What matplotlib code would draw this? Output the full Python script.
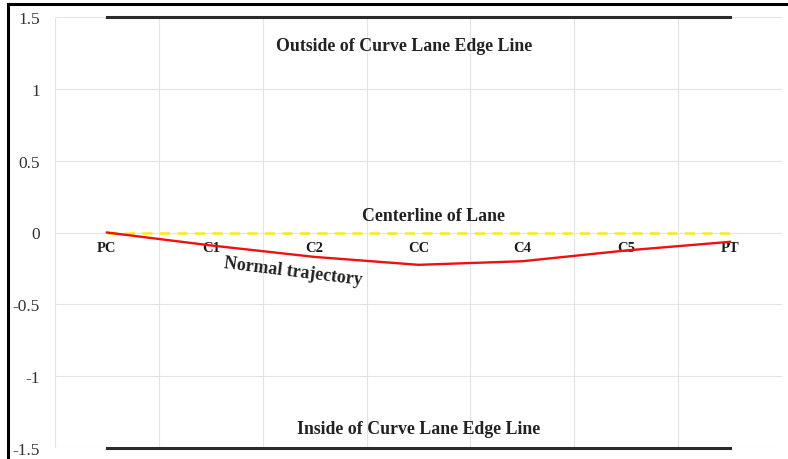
"""Lateral position of a normal trajectory through a curve."""
import matplotlib.pyplot as plt
from matplotlib.lines import Line2D

# chart data
points = ['PC', 'C1', 'C2', 'CC', 'C4', 'C5', 'PT']
trajectory = [0.0, -0.09, -0.17, -0.225, -0.20, -0.125, -0.065]
centerline = [0, 0, 0, 0, 0, 0, 0]
outside_edge = [1.5] * 7
inside_edge = [-1.5] * 7
y_ticks = [-1.5, -1, -0.5, 0, 0.5, 1, 1.5]
y_tick_labels = ['-1.5', '-1', '-0.5', '0', '0.5', '1', '1.5']

plt.rcParams['font.family'] = ['Liberation Serif', 'DejaVu Serif']

fig = plt.figure(figsize=(7.88, 4.60), dpi=100)
ax = fig.add_axes([55 / 788, 11 / 460, 727 / 788, 431 / 460])

xs = list(range(len(points)))

# grid: horizontal at each tick, vertical between categories
for y in y_ticks:
    ax.axhline(y, color='#e3e3e3', linewidth=0.8, zorder=0)
for i in range(len(points) + 1):
    ax.axvline(i - 0.5, color='#e3e3e3', linewidth=0.8, zorder=0)

# lane edges, centerline, trajectory
ax.plot(xs, outside_edge, color='#2b2b2b', linewidth=2.2, clip_on=False,
        zorder=3)
ax.plot(xs, inside_edge, color='#2b2b2b', linewidth=2.2, clip_on=False,
        zorder=3)
ax.plot(xs, centerline, color='#f7ec10', linewidth=1.8,
        dashes=(4, 3), zorder=2)
ax.plot(xs, trajectory, color='#ee1111', linewidth=1.7, zorder=4)

ax.set_xlim(-0.5, 6.5)
ax.set_ylim(-1.5, 1.5)

# category labels sit just below the zero line
# (spine position first: it resets the tick labels)
ax.spines['bottom'].set_position(('data', 0))
ax.set_xticks(xs)
ax.set_xticklabels(points, fontsize=10.5, fontweight='bold',
                   color='#1a1a1a')
ax.tick_params(axis='x', length=0, pad=6)

ax.set_yticks(y_ticks)
ax.set_yticklabels(y_tick_labels, fontsize=12.5, color='#333333')
ax.tick_params(axis='y', length=0, pad=11)

for side in ['top', 'right', 'bottom', 'left']:
    ax.spines[side].set_visible(False)

# annotations
bold = dict(fontweight='bold', fontsize=12.8, color='#222222',
            ha='center', va='center')
ax.text(2.86, 1.305, 'Outside of Curve Lane Edge Line', **bold)
ax.text(3.14, 0.115, 'Centerline of Lane', **bold)
ax.text(3.0, -1.367, 'Inside of Curve Lane Edge Line', **bold)
ax.text(1.79, -0.268, 'Normal trajectory', rotation=-7, **bold)

# black frame on top and left of the picture
fig.add_artist(Line2D([8 / 788, 1], [1 - 5 / 460, 1 - 5 / 460],
                      transform=fig.transFigure, color='black',
                      linewidth=2.2))
fig.add_artist(Line2D([8 / 788, 8 / 788], [0, 1 - 5 / 460],
                      transform=fig.transFigure, color='black',
                      linewidth=2.2))

fig.savefig('out.png', dpi=100)
